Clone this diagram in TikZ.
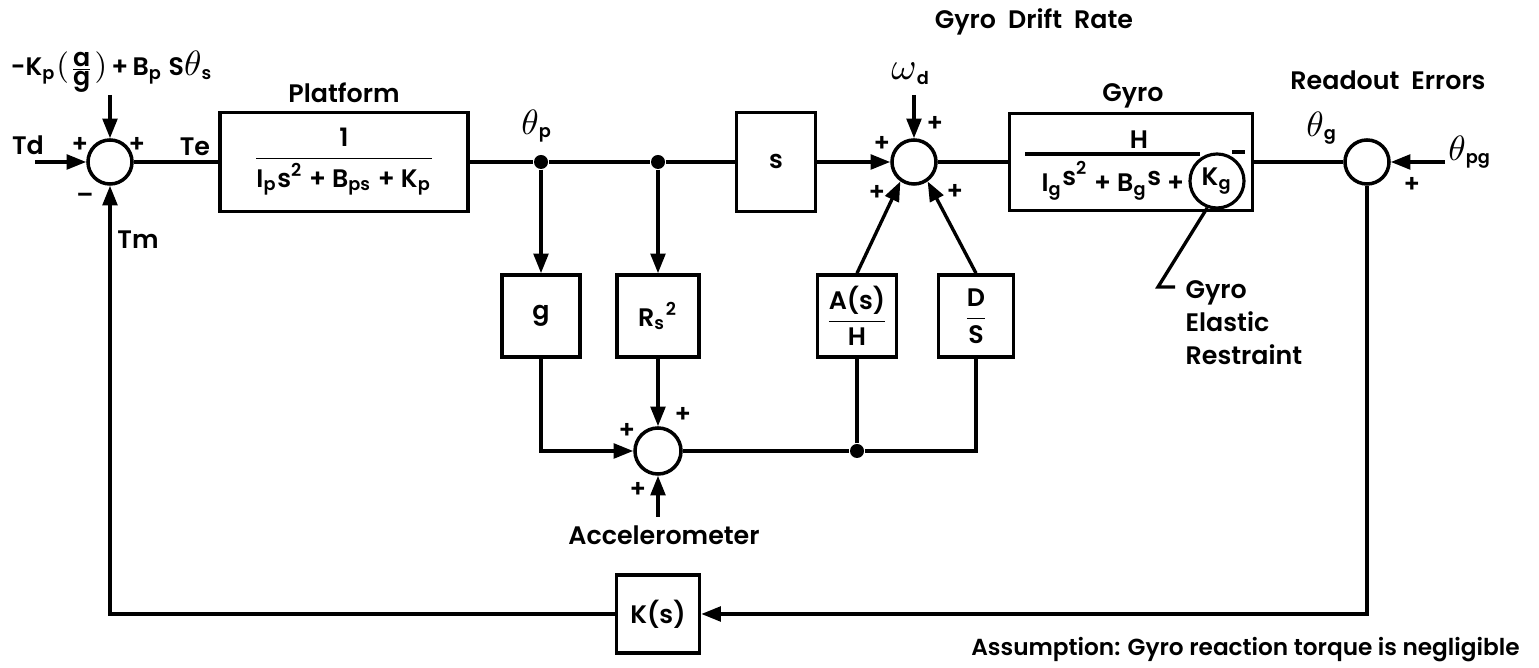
\documentclass[tikz,border=0pt]{standalone}
\usepackage{fontspec}
\setmainfont{Poppins}[UprightFont={* SemiBold}]
\usetikzlibrary{arrows.meta}

\newcommand{\ratio}[2]{$\displaystyle\frac{\mbox{#1}}{\mbox{#2}}$}
\newcommand{\thta}{{\fontsize{10}{10}\selectfont$\theta$}}
\newcommand{\omga}{{\fontsize{11}{11}\selectfont$\omega$}}

\tikzset{
  blk/.style={draw, line width=1pt, inner sep=1pt},
  sumnode/.style={draw, circle, line width=1pt, minimum size=0.44cm, inner sep=0pt},
  jdot/.style={circle, fill, inner sep=0pt, minimum size=0.14cm},
  sig/.style={font=\fontsize{7}{8}\selectfont, inner sep=0pt},
  wire/.style={line width=0.95pt},
  flow/.style={wire, -{Triangle[length=5.6pt,width=4.2pt]}},
}

\begin{document}
\begin{tikzpicture}[x=0.01cm, y=-0.01cm, font=\fontsize{7.2}{9.4}\selectfont]
\useasboundingbox (0,0) rectangle (1539,668);

% forward path
\node[sumnode] (s1) at (110,162) {};
\node[blk, minimum width=2.48cm, minimum height=0.99cm] (plat) at (344,162)
  {\ratio{1}{I\textsubscript{p}s\textsuperscript{2} + B\textsubscript{ps} + K\textsubscript{p}}};
\node[jdot] (j1) at (541,162) {};
\node[jdot] (j2) at (658,162) {};
\node[blk, minimum width=0.79cm, minimum height=0.99cm] (sblk) at (776,162) {s};
\node[sumnode] (s2) at (914,162) {};
\node[blk, minimum width=2.43cm, minimum height=0.97cm] (gyro) at (1131,162) {};
\node[sumnode] (s3) at (1367,162) {};

% gyro transfer function
\node (gnum) at (1139,140) {H};
\node[circle, draw, line width=0.9pt, minimum size=0.54cm, inner sep=0pt] (kg) at (1217,181) {K\textsubscript{g}};
\node[anchor=east, inner sep=1pt] (gden) at (kg.west)
  {I\textsubscript{g}\raisebox{.45ex}{s\textsuperscript{2}} + B\textsubscript{g}\raisebox{.45ex}{s} +};
\draw[wire] (1025,154) -- (1200,154);
\draw[wire] (1232,152) -- (1245,152);

% inner loops
\node[blk, minimum width=0.78cm, minimum height=0.82cm] (gblk) at (541,316) {g};
\node[blk, minimum width=0.82cm, minimum height=0.82cm] (rblk) at (658,316) {R\textsubscript{s}\textsuperscript{2}};
\node[blk, minimum width=0.79cm, minimum height=0.82cm] (ablk) at (857,316) {\ratio{A(s)}{H}};
\node[blk, minimum width=0.75cm, minimum height=0.82cm] (dblk) at (976,316) {\ratio{D}{S}};
\node[sumnode, minimum size=0.46cm] (s4) at (658,451) {};
\node[jdot] (j3) at (857,451) {};
\node[blk, minimum width=0.83cm, minimum height=0.78cm] (kblk) at (658,614) {K(s)};

% free ends
\coordinate (tdin) at (35,162);
\coordinate (topin) at (110,95);
\coordinate (wdin) at (914,95);
\coordinate (pgin) at (1445,162);
\coordinate (accin) at (658,517);
\coordinate (lbend) at (1158,287);

% connectors
\draw[flow] (tdin) -- (s1);
\draw[flow] (topin) -- (s1);
\draw[wire] (s1) -- (plat);
\draw[wire] (plat) -- (j1) -- (j2) -- (sblk);
\draw[flow] (sblk) -- (s2);
\draw[flow] (wdin) -- (s2);
\draw[wire] (s2) -- (gyro);
\draw[wire] (gyro) -- (s3);
\draw[flow] (pgin) -- (s3);
\draw[flow] (j1) -- (gblk);
\draw[flow] (j2) -- (rblk);
\draw[flow] (ablk.north) -- (s2.235);
\draw[flow] (dblk.north) -- (s2.-55);
\draw[flow] (gblk) |- (s4);
\draw[flow] (rblk) -- (s4);
\draw[flow] (accin) -- (s4);
\draw[wire] (s4) -- (j3) -- (ablk);
\draw[wire] (j3) -| (dblk);
\draw[flow] (s3) |- (kblk);
\draw[flow] (kblk) -| (s1);
\draw[wire] (kg.250) -- (lbend) -- ++(17,0);

% signals and signs
\node (toplbl) at (112,72) {-K\textsubscript{p}{\fontsize{9}{9}\selectfont$($}$\frac{\mbox{a}}{\mbox{g}}${\fontsize{9}{9}\selectfont$)$}\,+\,B\textsubscript{p} S\thta\textsubscript{s}};
\node (tdlbl) at (28,145) {Td};
\node (telbl) at (195,147) {Te};
\node (tmlbl) at (138,240) {Tm};
\node[sig] (p1a) at (80,145) {+};
\node[sig] (p1b) at (137,145) {+};
\node[sig] (p1c) at (85,198) {--};
\node (platlbl) at (344,93) {Platform};
\node (thp) at (537,126) {\thta\textsubscript{p}};
\node (wd) at (911,74) {\omga\textsubscript{d}};
\node (driftlbl) at (1034,22) {Gyro\ \ Drift\ \ Rate};
\node[sig] (p2a) at (882,144) {+};
\node[sig] (p2b) at (935,124) {+};
\node[sig] (p2c) at (877,193) {+};
\node[sig] (p2d) at (955,192) {+};
\node (gyrolbl) at (1133,96) {Gyro};
\node (readlbl) at (1388,80) {Readout\ \ Errors};
\node (thg) at (1322,128) {\thta\textsubscript{g}};
\node (thpg) at (1470,152) {\thta\textsubscript{pg}};
\node[sig] (p3a) at (1412,185) {+};
\node[sig] (p4a) at (627,431) {+};
\node[sig] (p4b) at (683,415) {+};
\node[sig] (p4c) at (638,490) {+};
\node (acclbl) at (664,535) {Accelerometer};
\node[anchor=north west, align=left, inner sep=0pt] (restr) at (1185,280) {Gyro\\Elastic\\Restraint};
\node[anchor=east, font=\fontsize{6.6}{8}\selectfont] (note) at (1532,650) {Assumption: Gyro reaction torque is negligible};

\end{tikzpicture}
\end{document}
